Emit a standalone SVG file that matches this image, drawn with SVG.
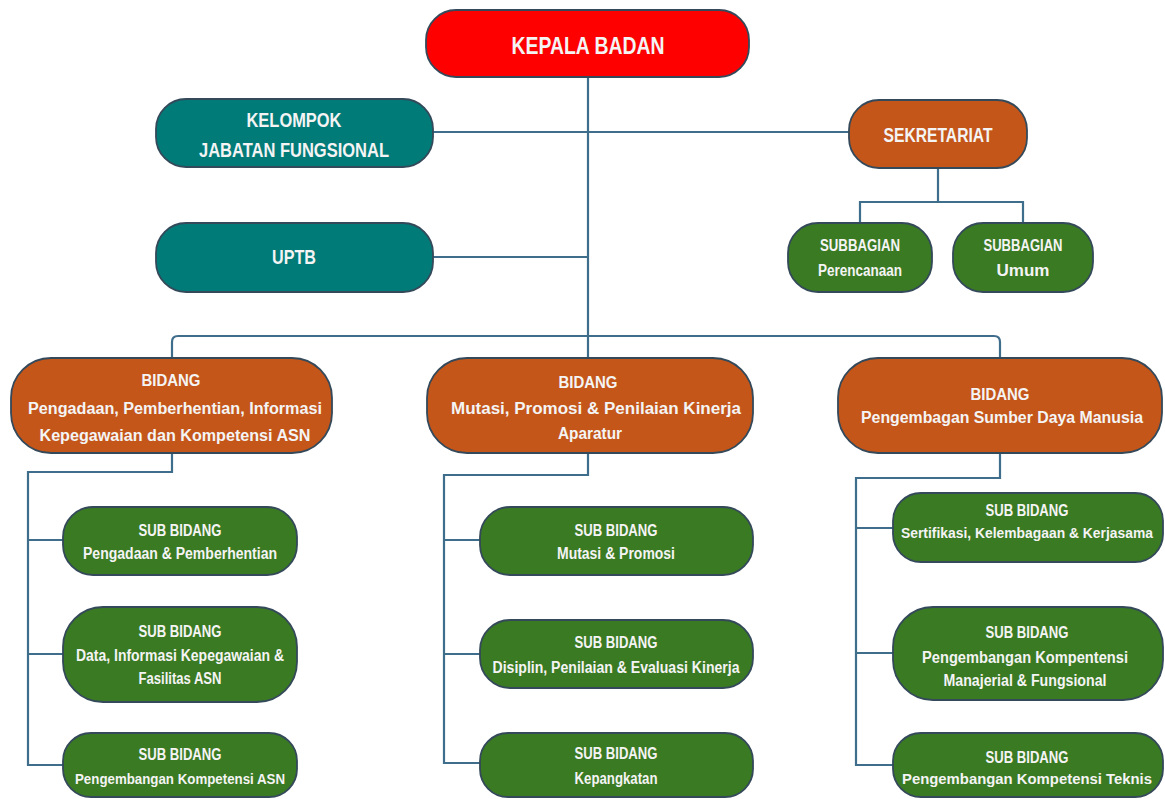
<svg xmlns="http://www.w3.org/2000/svg" width="1165" height="799" viewBox="0 0 1165 799">
<style>
.box{stroke:#34495a;stroke-width:1.8}
.red{fill:#fe0000}
.teal{fill:#017b78}
.orange{fill:#c4561a}
.green{fill:#3a7a22}
text{font-family:"Liberation Sans",Arial,sans-serif;font-weight:bold;fill:#f4f4f4;text-anchor:middle}
.t24{font-size:24px}
.t21{font-size:20px}
.t16{font-size:16px}
.t14{font-size:14.5px}
.conn{fill:none;stroke:#3f6d8c;stroke-width:2.2}
</style>
<rect width="1165" height="799" fill="#ffffff"/>
<g id="connectors" class="conn">
<path d="M588 78 V358"/>
<path d="M433 132 H849"/>
<path d="M433 257 H588"/>
<path d="M938 168 V202 M860 223 V202 H1023 V223"/>
<path d="M172 358 V342 Q172 336 178 336 H994 Q1000 336 1000 342 V358"/>
<path d="M172 453 V472 H28 V765 H63 M28 540 H63 M28 654 H63"/>
<path d="M588 453 V475 H444 V763 H480 M444 540 H480 M444 654 H480"/>
<path d="M1000 453 V478 H856 V765 H893 M856 528 H893 M856 653 H893"/>
</g>
<g id="kepala">
<rect class="box red" x="426" y="10" width="323" height="67" rx="30"/>
<text class="t24" x="588" y="54" textLength="153" lengthAdjust="spacingAndGlyphs">KEPALA BADAN</text>
</g>
<g id="kelompok">
<rect class="box teal" x="156" y="99" width="277" height="68" rx="30"/>
<text class="t21" x="294" y="127" textLength="95" lengthAdjust="spacingAndGlyphs">KELOMPOK</text>
<text class="t21" x="294" y="157" textLength="190" lengthAdjust="spacingAndGlyphs">JABATAN FUNGSIONAL</text>
</g>
<g id="uptb">
<rect class="box teal" x="156" y="223" width="277" height="69" rx="30"/>
<text class="t21" x="294" y="264" textLength="44" lengthAdjust="spacingAndGlyphs">UPTB</text>
</g>
<g id="sekretariat">
<rect class="box orange" x="849" y="100" width="178" height="68" rx="30"/>
<text class="t21" x="938" y="142" textLength="109" lengthAdjust="spacingAndGlyphs">SEKRETARIAT</text>
</g>
<g id="subbagian-perencanaan">
<rect class="box green" x="788" y="223" width="144" height="69" rx="30"/>
<text class="t16" x="860" y="251" textLength="80" lengthAdjust="spacingAndGlyphs">SUBBAGIAN</text>
<text class="t16" x="860" y="276" textLength="84" lengthAdjust="spacingAndGlyphs">Perencanaan</text>
</g>
<g id="subbagian-umum">
<rect class="box green" x="953" y="223" width="140" height="69" rx="30"/>
<text class="t16" x="1023" y="251" textLength="79" lengthAdjust="spacingAndGlyphs">SUBBAGIAN</text>
<text class="t16" x="1023" y="276" textLength="53" lengthAdjust="spacingAndGlyphs">Umum</text>
</g>
<g id="bidang-pengadaan">
<rect class="box orange" x="11" y="358" width="321" height="95" rx="40"/>
<text class="t16" x="171" y="386" textLength="59" lengthAdjust="spacingAndGlyphs">BIDANG</text>
<text class="t16" x="175" y="414" textLength="294" lengthAdjust="spacingAndGlyphs">Pengadaan, Pemberhentian, Informasi</text>
<text class="t16" x="175" y="441" textLength="271" lengthAdjust="spacingAndGlyphs">Kepegawaian dan Kompetensi ASN</text>
</g>
<g id="bidang-mutasi">
<rect class="box orange" x="427" y="358" width="326" height="95" rx="40"/>
<text class="t16" x="588" y="388" textLength="59" lengthAdjust="spacingAndGlyphs">BIDANG</text>
<text class="t16" x="596" y="414" textLength="290" lengthAdjust="spacingAndGlyphs">Mutasi, Promosi &amp; Penilaian Kinerja</text>
<text class="t16" x="590" y="439" textLength="64" lengthAdjust="spacingAndGlyphs">Aparatur</text>
</g>
<g id="bidang-psdm">
<rect class="box orange" x="838" y="358" width="324" height="95" rx="40"/>
<text class="t16" x="1000" y="400" textLength="59" lengthAdjust="spacingAndGlyphs">BIDANG</text>
<text class="t16" x="1002" y="423" textLength="282" lengthAdjust="spacingAndGlyphs">Pengembagan Sumber Daya Manusia</text>
</g>
<g id="sub-pengadaan">
<rect class="box green" x="63" y="507" width="234" height="68" rx="30"/>
<text class="t16" x="180" y="536" textLength="83" lengthAdjust="spacingAndGlyphs">SUB BIDANG</text>
<text class="t16" x="180" y="559" textLength="194" lengthAdjust="spacingAndGlyphs">Pengadaan &amp; Pemberhentian</text>
</g>
<g id="sub-data">
<rect class="box green" x="63" y="607" width="234" height="95" rx="40"/>
<text class="t16" x="180" y="637" textLength="83" lengthAdjust="spacingAndGlyphs">SUB BIDANG</text>
<text class="t16" x="180" y="661" textLength="208" lengthAdjust="spacingAndGlyphs">Data, Informasi Kepegawaian &amp;</text>
<text class="t16" x="180" y="684" textLength="83" lengthAdjust="spacingAndGlyphs">Fasilitas ASN</text>
</g>
<g id="sub-kompetensi-asn">
<rect class="box green" x="63" y="733" width="234" height="64" rx="28"/>
<text class="t16" x="180" y="760" textLength="83" lengthAdjust="spacingAndGlyphs">SUB BIDANG</text>
<text class="t14" x="180" y="784" textLength="210" lengthAdjust="spacingAndGlyphs">Pengembangan Kompetensi ASN</text>
</g>
<g id="sub-mutasi">
<rect class="box green" x="480" y="507" width="273" height="68" rx="30"/>
<text class="t16" x="616" y="536" textLength="83" lengthAdjust="spacingAndGlyphs">SUB BIDANG</text>
<text class="t16" x="616" y="559" textLength="118" lengthAdjust="spacingAndGlyphs">Mutasi &amp; Promosi</text>
</g>
<g id="sub-disiplin">
<rect class="box green" x="480" y="620" width="273" height="68" rx="30"/>
<text class="t16" x="616" y="648" textLength="83" lengthAdjust="spacingAndGlyphs">SUB BIDANG</text>
<text class="t16" x="616" y="673" textLength="247" lengthAdjust="spacingAndGlyphs">Disiplin, Penilaian &amp; Evaluasi Kinerja</text>
</g>
<g id="sub-kepangkatan">
<rect class="box green" x="480" y="733" width="273" height="64" rx="28"/>
<text class="t16" x="616" y="759" textLength="83" lengthAdjust="spacingAndGlyphs">SUB BIDANG</text>
<text class="t16" x="616" y="784" textLength="83" lengthAdjust="spacingAndGlyphs">Kepangkatan</text>
</g>
<g id="sub-sertifikasi">
<rect class="box green" x="893" y="493" width="270" height="69" rx="28"/>
<text class="t16" x="1027" y="516" textLength="83" lengthAdjust="spacingAndGlyphs">SUB BIDANG</text>
<text class="t14" x="1027" y="538" textLength="252" lengthAdjust="spacingAndGlyphs">Sertifikasi, Kelembagaan &amp; Kerjasama</text>
</g>
<g id="sub-manajerial">
<rect class="box green" x="893" y="607" width="270" height="93" rx="40"/>
<text class="t16" x="1027" y="638" textLength="83" lengthAdjust="spacingAndGlyphs">SUB BIDANG</text>
<text class="t16" x="1025" y="663" textLength="206" lengthAdjust="spacingAndGlyphs">Pengembangan Kompentensi</text>
<text class="t16" x="1025" y="686" textLength="163" lengthAdjust="spacingAndGlyphs">Manajerial &amp; Fungsional</text>
</g>
<g id="sub-teknis">
<rect class="box green" x="893" y="733" width="270" height="64" rx="28"/>
<text class="t16" x="1027" y="763" textLength="83" lengthAdjust="spacingAndGlyphs">SUB BIDANG</text>
<text class="t14" x="1027" y="784" textLength="250" lengthAdjust="spacingAndGlyphs">Pengembangan Kompetensi Teknis</text>
</g>
</svg>
